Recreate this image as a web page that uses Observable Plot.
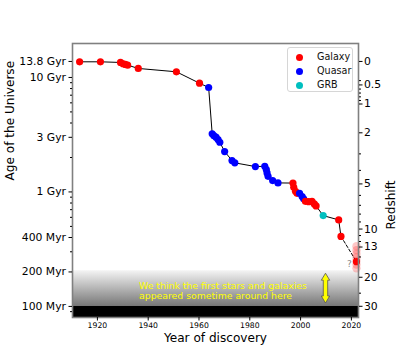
<!DOCTYPE html>
<html>
<head>
<meta charset="utf-8">
<script src="https://cdn.jsdelivr.net/npm/d3@7"></script>
<script src="https://cdn.jsdelivr.net/npm/@observablehq/plot@0.6"></script>
<style>
  body { margin: 0; background: #fff; font-family: "DejaVu Sans", sans-serif; }
  #wrap { position: relative; width: 399px; height: 356px; }
  #legend { position: absolute; left: 287px; top: 47px; width: 66px; height: 45px;
            border: 1px solid #d6d6d6; border-radius: 3px; background: rgba(255,255,255,0.85);
            box-sizing: border-box; }
  .lg-row { position: absolute; left: 0; height: 14px; width: 100%; }
  .lg-dot { position: absolute; left: 8px; top: 4px; width: 7px; height: 7px; border-radius: 50%; }
  .lg-txt { position: absolute; left: 29px; top: 0; font-size: 9.6px; line-height: 14px; color: #111; }
</style>
</head>
<body>
<div id="wrap"><div id="chart"></div><div id="legend"></div></div>
<script>
// ---- data: record-holding objects (year of discovery, age of universe in Myr, type)
const discoveryYear = [1913.0, 1921.2, 1929.1, 1930.1, 1931.0, 1931.9, 1936.1, 1951.1, 1960.2,
  1963.8, 1965.2, 1965.8, 1966.7, 1967.5, 1968.2, 1970.1, 1973.0, 1974.1, 1982.2, 1985.9,
  1986.5, 1986.8, 1987.2, 1989.0, 1991.1,
  1997.0, 1997.3, 1998.0, 1998.6, 1999.6, 2000.6, 2001.2,
  2001.9, 2003.2, 2004.5, 2005.4, 2006.1, 2008.9, 2015.0, 2015.9, 2022.0];
const ageMyr = [13700, 13700, 13520, 13180, 12990, 12810, 11990, 11210, 8910,
  8170, 3220, 3110, 3006, 2868, 2716, 2254, 1880, 1795, 1666, 1675,
  1568, 1467, 1370, 1256, 1199,
  1195, 1098, 1013, 973, 973, 911, 870,
  828, 822, 828, 786, 755, 621, 570, 409, 246];
const objectType = ["Galaxy","Galaxy","Galaxy","Galaxy","Galaxy","Galaxy","Galaxy","Galaxy","Galaxy",
  "Quasar","Quasar","Quasar","Quasar","Quasar","Quasar","Quasar","Quasar","Quasar","Quasar","Quasar",
  "Quasar","Quasar","Quasar","Quasar","Quasar",
  "Galaxy","Galaxy","Galaxy","Galaxy","Quasar","Quasar","Quasar",
  "Galaxy","Galaxy","Galaxy","Galaxy","Galaxy","GRB","Galaxy","Galaxy","Galaxy"];

// unconfirmed candidates (faded)
const candidateYear = [2022.0, 2022.0, 2022.0, 2022.0, 2022.0, 2022.0, 2022.0];
const candidateAgeMyr = [335, 310, 288, 268, 250, 232, 215];

// legend / colours
const typeNames = ["Galaxy", "Quasar", "GRB"];
const typeColors = ["#ff0000", "#0000ff", "#00bfbf"];

// axes
const xDomain = [1910.2, 2022.8];
const yDomain = [80, 19800];
const xTicks = [1920, 1940, 1960, 1980, 2000, 2020];
const ageTicks = [13800, 10000, 3000, 1000, 400, 200, 100];
const ageTickLabels = ["13.8 Gyr", "10 Gyr", "3 Gyr", "1 Gyr", "400 Myr", "200 Myr", "100 Myr"];
const ageMinorTicks = [9000, 8000, 7000, 6000, 5000, 4000, 2000, 900, 800, 700, 600, 500, 300, 90];
const redshiftTicks = [0, 0.5, 1, 2, 5, 10, 13, 20, 30];
const redshiftTickLabels = ["0", "0.5", "1", "2", "5", "10", "13", "20", "30"];
const redshiftMinorTicks = [0.4, 0.6, 0.7, 0.8, 0.9, 3, 4, 6, 7, 8, 9, 11, 12, 15, 25];

// annotation
const bandAgesMyr = [100, 205];          // grey "first stars" band
const noteText = ["We think the first stars and galaxies\nappeared sometime around here"];
const noteYear = [1936.4];
const noteAgeMyr = [137];
const arrowYear = 2010.0;
const arrowAgesMyr = [193, 106];
const questionYear = [2019.2];
const questionAgeMyr = [236];

// ---- redshift -> age (flat LCDM, normalised to 13.8 Gyr today)
const Om = 0.31, OL = 0.69;
function rawAge(z) { return Math.asinh(Math.sqrt(OL / Om) * Math.pow(1 + z, -1.5)); }
function ageAtRedshift(z) { return 13800 * rawAge(z) / rawAge(0); }

const records = discoveryYear.map((year, i) => ({year, age: ageMyr[i], type: objectType[i]}));
const candidates = candidateYear.map((year, i) => ({year, age: candidateAgeMyr[i]}));
const solidPart = records.slice(0, records.length - 1);
const dashedPart = records.slice(records.length - 2);

const ageLabel = new Map(ageTicks.map((a, i) => [a, ageTickLabels[i]]));
const zMajorAges = redshiftTicks.map(ageAtRedshift);
const zLabel = new Map(zMajorAges.map((a, i) => [a, redshiftTickLabels[i]]));
const zMinorAges = redshiftMinorTicks.map(ageAtRedshift);

function doubleArrow(index, scales) {
  const x = scales.x(arrowYear);
  const ya = scales.y(arrowAgesMyr[0]);
  const yb = scales.y(arrowAgesMyr[1]);
  const sw = 2.2, hw = 4.2, hl = 7;
  const pts = [[x, ya], [x + hw, ya + hl], [x + sw, ya + hl], [x + sw, yb - hl], [x + hw, yb - hl],
               [x, yb], [x - hw, yb - hl], [x - sw, yb - hl], [x - sw, ya + hl], [x - hw, ya + hl]];
  const g = d3.create("svg:g");
  g.append("path").attr("d", "M" + pts.map(p => p.join(",")).join("L") + "Z")
    .attr("fill", "#ffff00").attr("stroke", "#555").attr("stroke-width", 0.8);
  return g.node();
}

const svg = Plot.plot({
  width: 399, height: 356,
  marginTop: 43, marginBottom: 39, marginLeft: 72, marginRight: 41,
  style: {fontFamily: "DejaVu Sans", fontSize: "11px", background: "white", color: "#000", overflow: "visible"},
  x: {domain: xDomain},
  y: {type: "log", domain: yDomain},
  color: {domain: typeNames, range: typeColors},
  marks: [
    Plot.rect([{}], {x1: () => xDomain[0], x2: () => xDomain[1], y1: () => bandAgesMyr[0], y2: () => bandAgesMyr[1], fill: "url(#dawn)"}),
    Plot.rect([{}], {x1: () => xDomain[0], x2: () => xDomain[1], y1: () => yDomain[0], y2: () => bandAgesMyr[0], fill: "#000"}),
    Plot.line(solidPart, {x: "year", y: "age", stroke: "#000", strokeWidth: 1}),
    Plot.line(dashedPart, {x: "year", y: "age", stroke: "#000", strokeWidth: 1, strokeDasharray: "3,2"}),
    Plot.dot(candidates, {x: "year", y: "age", r: 4.2, fill: "#ff0000", fillOpacity: 0.22}),
    Plot.dot(records, {x: "year", y: "age", r: 3.6, fill: "type"}),
    Plot.text(questionYear.map((yr, i) => ({yr, a: questionAgeMyr[i]})), {x: "yr", y: "a", text: () => "?", fill: "#888", fontSize: 9}),
    Plot.text(noteText.map((t, i) => ({t, yr: noteYear[i], a: noteAgeMyr[i]})), {x: "yr", y: "a", text: "t", fill: "#ffff00", fontSize: 9.3, textAnchor: "start", lineHeight: 1.12}),
    doubleArrow,
    Plot.frame({stroke: "#808080", strokeWidth: 1.6}),
    Plot.axisX(xTicks, {tickSize: 3.5, tickPadding: 1.5, fontSize: 7.7, label: null, text: d => String(d)}),
    Plot.axisY(ageTicks, {anchor: "left", tickSize: 3.5, tickPadding: 3, fontSize: 10.8, label: null, text: d => ageLabel.get(d)}),
    Plot.axisY(ageMinorTicks, {anchor: "left", tickSize: 2, label: null, text: () => ""}),
    Plot.axisY(zMajorAges, {anchor: "right", tickSize: 3.5, tickPadding: 2, fontSize: 10.8, label: null, text: d => zLabel.get(d)}),
    Plot.axisY(zMinorAges, {anchor: "right", tickSize: 2, label: null, text: () => ""}),
    Plot.text(["Year of discovery"], {frameAnchor: "bottom", dy: 24, fontSize: 12.1}),
    Plot.text(["Age of the Universe"], {frameAnchor: "left", dx: -62, rotate: -90, fontSize: 12.1}),
    Plot.text(["Redshift"], {frameAnchor: "right", dx: 33, rotate: -90, fontSize: 12.1})
  ]
});
d3.select(svg).insert("defs", ":first-child").html(
  '<linearGradient id="dawn" x1="0" y1="0" x2="0" y2="1">' +
  '<stop offset="0" stop-color="#f4f4f4"/><stop offset="1" stop-color="#777"/></linearGradient>');
document.getElementById("chart").appendChild(svg);

// legend
const legend = d3.select("#legend");
typeNames.forEach((name, i) => {
  const row = legend.append("div").attr("class", "lg-row").style("top", (2 + i * 14) + "px");
  row.append("div").attr("class", "lg-dot").style("background", typeColors[i]);
  row.append("div").attr("class", "lg-txt").text(name);
});
</script>
</body>
</html>
